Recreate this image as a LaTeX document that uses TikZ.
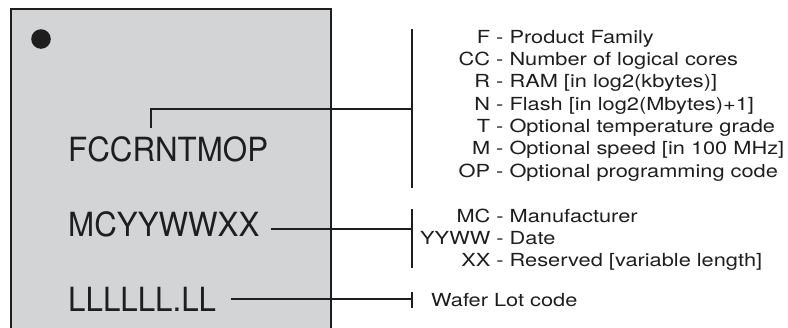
\documentclass[tikz,border=0pt]{standalone}
\usepackage{fontspec}
\setmainfont{TeX Gyre Heros}
\newfontfamily\chipfont[FakeStretch=0.94]{TeX Gyre Heros}
\newfontfamily\keyfont[FakeStretch=1.21]{TeX Gyre Heros}
\definecolor{chipgray}{RGB}{211,212,214}
\definecolor{inkgray}{RGB}{30,30,30}

\begin{document}
\begin{tikzpicture}[x=1pt,y=-1pt,
  marking/.style={anchor=base west,inner sep=0pt,text=inkgray,
    font=\chipfont\fontsize{33.3}{40}\selectfont},
  keytext/.style={anchor=base west,inner sep=0pt,text=inkgray,
    font=\keyfont\fontsize{18}{22.3}\selectfont},
  leader/.style={line width=1.2pt,draw=inkgray}]

\useasboundingbox (0,0) rectangle (788,327);

% package body and pin 1 mark
\draw[line width=1.6pt,draw=inkgray,fill=chipgray] (11,9) rectangle (331,345);
\fill[inkgray] (41,39) circle[radius=9.8];

% marking lines
\node[marking] (partno) at (68,161.7) {FCCRNTMOP};
\node[marking] (datecode) at (68,236.7) {MCYYWWXX};
\node[marking] (lotcode) at (68,311.7) {LLLLLL.LL};

% keys
\node[keytext] (partkey) at (458.5,43.3) {\begin{tabular}[t]{@{}r@{\ -\ }l@{}}
  F & Product Family\\
  CC & Number of logical cores\\
  R & RAM [in log2(kbytes)]\\
  N & Flash [in log2(Mbytes)+1]\\
  T & Optional temperature grade\\
  M & Optional speed [in 100 MHz]\\
  OP & Optional programming code
\end{tabular}};
\node[keytext] (datekey) at (420,222.3) {\begin{tabular}[t]{@{}r@{\ -\ }l@{}}
  MC & Manufacturer\\
  YYWW & Date\\
  XX & Reserved [variable length]
\end{tabular}};
\node[keytext] (lotkey) at (431,306) {Wafer Lot code};

% leaders and brackets
\coordinate (parttap) at (151,128);
\coordinate (partbar) at (412,109);
\coordinate (datetap) at (271,229);
\coordinate (datebar) at (412,229);
\coordinate (lottap) at (231,299);
\coordinate (lotbar) at (412,299);

\draw[leader] (parttap) |- (partbar);
\draw[leader] (412,29) -- (412,188);
\draw[leader] (datetap) -- (datebar);
\draw[leader] (412,209) -- (412,268);
\draw[leader] (lottap) -- (lotbar);
\draw[leader] (412,292) -- (412,308);

\end{tikzpicture}
\end{document}
